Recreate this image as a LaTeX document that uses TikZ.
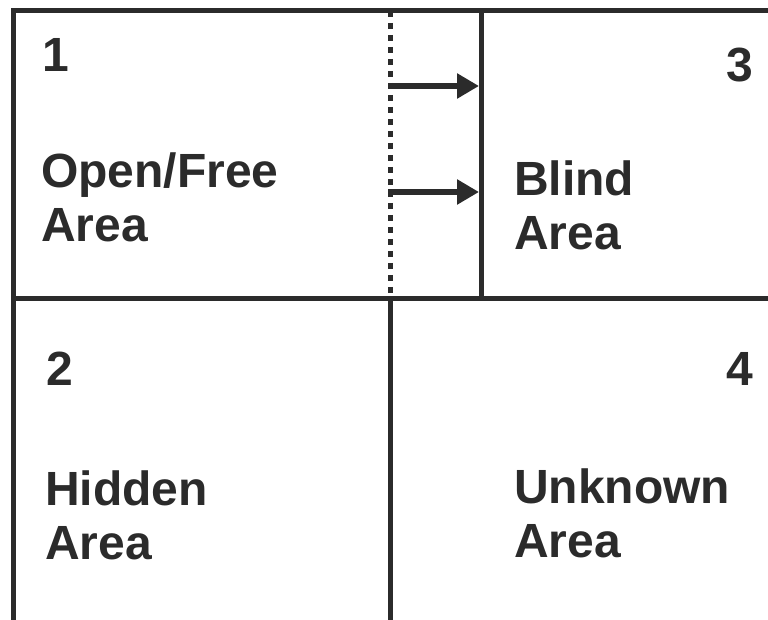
\documentclass[tikz,border=0pt]{standalone}
\usepackage{fontspec}
\setmainfont{Liberation Sans}
\usetikzlibrary{arrows.meta}
\definecolor{ink}{HTML}{2B2B2B}
\tikzset{
  wall/.style={ink, line width=5pt},
  dotwall/.style={ink, line width=5pt, dash pattern=on 6pt off 6pt},
  push/.style={ink, line width=6.5pt, -{Triangle[length=22pt,width=24pt]}},
  areatext/.style={font=\fontsize{48}{54}\selectfont\bfseries, text=ink, inner sep=0pt, anchor=base west, align=left}
}

\begin{document}
\begin{tikzpicture}[x=1pt, y=-1pt]
  \useasboundingbox (0,0) rectangle (768,620);
  % frame and quadrant walls
  \draw[wall] (13,630) -- (13,11) -- (780,11);
  \draw[wall] (11,298) -- (780,298);
  \draw[dotwall] (390,11) -- (390,298);
  \draw[wall] (390,298) -- (390,630);
  \draw[wall] (481,11) -- (481,298);
  % arrows from the dotted line to the blind area
  \coordinate (p1) at (388,86);
  \coordinate (q1) at (479,86);
  \coordinate (p2) at (388,192);
  \coordinate (q2) at (479,192);
  \draw[push] (p1) -- (q1);
  \draw[push] (p2) -- (q2);
  % labels
  \node[areatext] (num1) at (42,72) {1};
  \node[areatext] (open) at (41,242) {Open/Free\\Area};
  \node[areatext] (num3) at (726,82) {3};
  \node[areatext] (blind) at (514,250) {Blind\\Area};
  \node[areatext] (num2) at (46,385) {2};
  \node[areatext] (hidden) at (45,559) {Hidden\\Area};
  \node[areatext] (num4) at (726,385) {4};
  \node[areatext] (unknown) at (514,557) {Unknown\\Area};
\end{tikzpicture}
\end{document}
